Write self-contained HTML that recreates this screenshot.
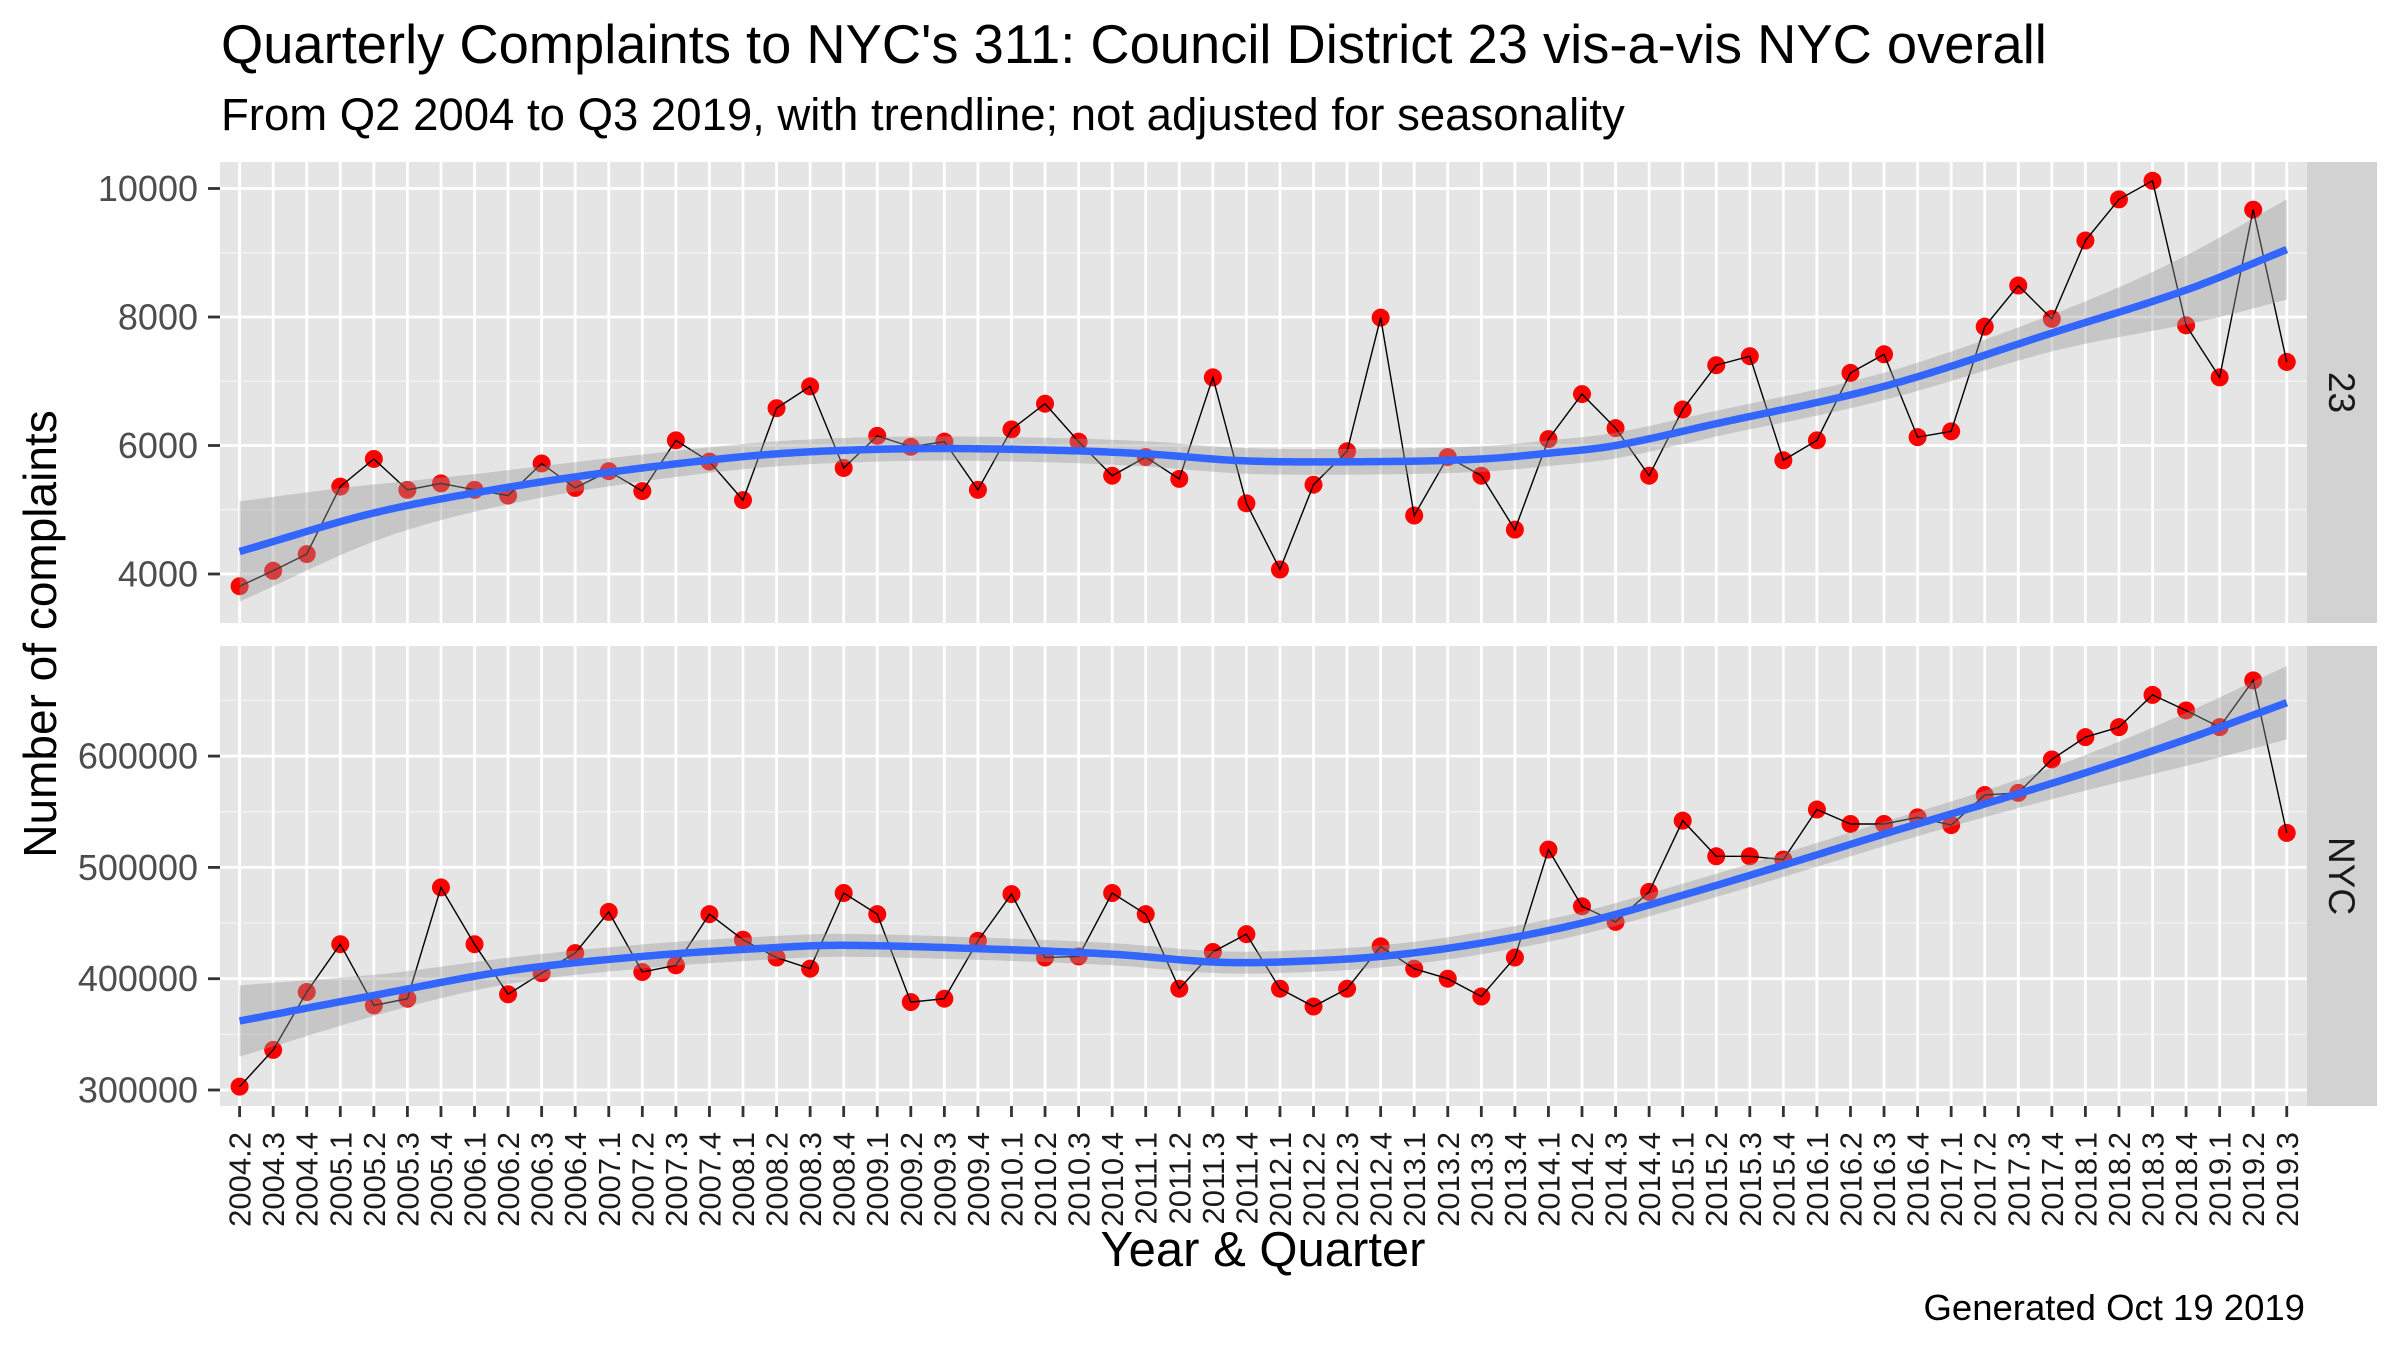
<!DOCTYPE html>
<html><head><meta charset="utf-8"><style>
html,body{margin:0;padding:0;background:#fff;}
svg{display:block;font-family:"Liberation Sans",Arial,sans-serif;}
</style></head><body>
<svg id="s" width="2400" height="1350" viewBox="0 0 2400 1350" xmlns="http://www.w3.org/2000/svg">
<text x="221" y="63" font-size="54.3" fill="#000">Quarterly Complaints to NYC's 311: Council District 23 vis-a-vis NYC overall</text>
<text x="221" y="130" font-size="45.5" fill="#000">From Q2 2004 to Q3 2019, with trendline; not adjusted for seasonality</text>
<g id="g"></g>
<text x="1263" y="1266" font-size="49" text-anchor="middle" fill="#000">Year &amp; Quarter</text>
<text transform="translate(56,634) rotate(-90)" font-size="46" text-anchor="middle" fill="#000">Number of complaints</text>
<text x="2305" y="1320" font-size="36.5" text-anchor="end" fill="#000">Generated Oct 19 2019</text>
</svg>
<script>
(function(){
const g=document.getElementById('g');
const X0=239.6,DX=33.56,PL=220,PR=2307,SR=2377;
const xs=i=>X0+i*DX;
const labels=[];
for(let y=2004;y<=2019;y++)for(let q=1;q<=4;q++){if(y==2004&&q<2)continue;if(y==2019&&q>3)continue;labels.push(y+'.'+q);}
const topD=[3810,4050,4310,5360,5790,5310,5410,5310,5220,5720,5340,5600,5290,6080,5750,5150,6580,6920,5650,6150,5980,6060,5310,6250,6650,6060,5530,5820,5480,7060,5100,4070,5390,5910,7990,4910,5820,5530,4690,6100,6800,6270,5530,6560,7250,7390,5770,6080,7130,7420,6130,6220,7850,8490,7970,9190,9830,10120,7870,7060,9670,7300];
const botD=[303,336,388,431,376,382,482,431,386,405,423,460,406,412,458,435,419,409,477,458,379,382,434,476,419,420,477,458,391,424,440,391,375,391,429,409,400,384,419,516,465,451,478,542,510,510,507,552,539,539,545,538,565,567,597,617,626,655,641,626,668,531].map(v=>v*1000);
function interp(kn,i){for(let k=0;k<kn.length-1;k++){const a=kn[k],b=kn[k+1];if(i>=a[0]&&i<=b[0]){
 const p0=kn[Math.max(0,k-1)],p3=kn[Math.min(kn.length-1,k+2)];const t=(i-a[0])/(b[0]-a[0]);
 const m1=(b[1]-p0[1])/(b[0]-p0[0])*(b[0]-a[0]),m2=(p3[1]-a[1])/(p3[0]-a[0])*(b[0]-a[0]);
 const t2=t*t,t3=t2*t;return (2*t3-3*t2+1)*a[1]+(t3-2*t2+t)*m1+(-2*t3+3*t2)*b[1]+(t3-t2)*m2;}}return kn[kn.length-1][1];}
const panels=[
 {T:162,B:623,y:v=>574-(v-4000)*0.06425,major:[4000,6000,8000,10000],minor:[3000,5000,7000,9000],data:topD,strip:'23',
  tr:[[0,4350],[4,4950],[8,5350],[12,5650],[16,5870],[20,5950],[24,5930],[27,5870],[30,5760],[34,5750],[37,5790],[39,5880],[41,6000],[44,6340],[49,6920],[54,7750],[58,8420],[61,9050]],
  hw:[[0,780],[5,380],[10,230],[20,190],[30,200],[40,200],[50,220],[55,330],[61,780]]},
 {T:646,B:1106,y:v=>1090-(v-300000)*0.001113,major:[300000,400000,500000,600000],minor:[350000,450000,550000,650000],data:botD,strip:'NYC',
  tr:[[0,362000],[4,385000],[8,407000],[12,420000],[16,428000],[18,430000],[22,427000],[26,422000],[29,415000],[31,415000],[34,420000],[37,432000],[40,450000],[43,475000],[46,502000],[49,530000],[52,557000],[55,585000],[58,615000],[61,648000]],
  hw:[[0,32000],[5,16000],[10,11000],[50,11000],[55,16000],[61,33000]]}];
let h='';
for(const p of panels){
 h+=`<rect x="${PL}" y="${p.T}" width="${PR-PL}" height="${p.B-p.T}" fill="#e5e5e5"/>`;
 h+=`<rect x="${PR}" y="${p.T}" width="${SR-PR}" height="${p.B-p.T}" fill="#d2d2d2"/>`;
 for(const v of p.minor){const y=p.y(v);if(y>p.T&&y<p.B)h+=`<line x1="${PL}" x2="${PR}" y1="${y}" y2="${y}" stroke="#f2f2f2" stroke-width="1.4"/>`;}
 for(const v of p.major){const y=p.y(v);h+=`<line x1="${PL}" x2="${PR}" y1="${y}" y2="${y}" stroke="#fff" stroke-width="2.8"/>`;
  h+=`<line x1="208" x2="220" y1="${y}" y2="${y}" stroke="#333" stroke-width="2.8"/>`;
  h+=`<text x="198" y="${y+12.5}" font-size="36" text-anchor="end" fill="#4d4d4d">${v}</text>`;}
 for(let i=0;i<62;i++)h+=`<line x1="${xs(i)}" x2="${xs(i)}" y1="${p.T}" y2="${p.B}" stroke="#fff" stroke-width="2.8"/>`;
 h+=`<text transform="translate(${(PR+SR)/2-13},${(p.T+p.B)/2}) rotate(90)" font-size="37" text-anchor="middle" fill="#1a1a1a">${p.strip}</text>`;
 let pts='';
 for(let i=0;i<62;i++){const x=xs(i),y=p.y(p.data[i]);h+=`<circle cx="${x}" cy="${y}" r="9" fill="#ff0000"/>`;pts+=`${x},${y} `;}
 h+=`<polyline points="${pts}" fill="none" stroke="#000" stroke-width="1.4"/>`;
 let up=[],lo=[],ln=[];
 for(let s=0;s<=610;s++){const i=s/10;const c=interp(p.tr,i),w=interp(p.hw,i);const x=xs(i);ln.push(`${x},${p.y(c)}`);up.push(`${x},${p.y(c+w)}`);lo.unshift(`${x},${p.y(c-w)}`);}
 h+=`<polygon points="${up.join(' ')} ${lo.join(' ')}" fill="#999" fill-opacity="0.4"/>`;
 h+=`<polyline points="${ln.join(' ')}" fill="none" stroke="#3366ff" stroke-width="7.5"/>`;
}
for(let i=0;i<62;i++){const x=xs(i);
 h+=`<line x1="${x}" x2="${x}" y1="1106" y2="1117" stroke="#333" stroke-width="2.8"/>`;
 h+=`<text transform="translate(${x+11},1132) rotate(-90)" font-size="31" text-anchor="end" fill="#1a1a1a">${labels[i]}</text>`;}
g.innerHTML=h;
})();
</script>
</body></html>
